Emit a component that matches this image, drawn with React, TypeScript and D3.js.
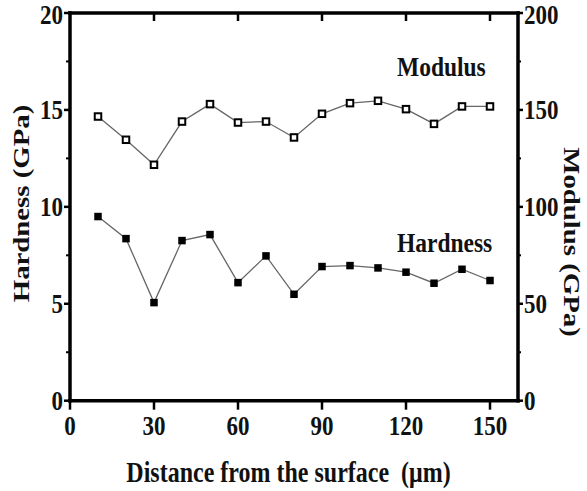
import React from "react";
import * as d3 from "d3";

const distances = [10, 20, 30, 40, 50, 60, 70, 80, 90, 100, 110, 120, 130, 140, 150];
const hardness = [9.5, 8.36, 5.06, 8.26, 8.57, 6.09, 7.47, 5.49, 6.92, 6.97, 6.85, 6.63, 6.06, 6.78, 6.2];
const modulus = [146.6, 134.6, 121.7, 144, 153, 143.5, 144, 135.8, 148, 153.5, 154.7, 150.4, 142.8, 151.8, 151.8];
const xTicks = [0, 30, 60, 90, 120, 150];
const hTicks = [0, 5, 10, 15, 20];
const hMinor = [2.5, 7.5, 12.5, 17.5];
const mTicks = [0, 50, 100, 150, 200];
const mMinor = [25, 75, 125, 175];

const W = 587;
const H = 491;
const FONT = "'Liberation Serif', 'DejaVu Serif', serif";
const SY = 1.2;

const left = 70, right = 518, top = 13, bottom = 400.7;

export default function App() {
  const x = d3.scaleLinear().domain([0, 160]).range([left, right]);
  const yH = d3.scaleLinear().domain([0, 20]).range([bottom, top]);
  const yM = d3.scaleLinear().domain([0, 200]).range([bottom, top]);

  const lineH = d3.line<number>().x((_, i) => x(distances[i])).y((d) => yH(d));
  const lineM = d3.line<number>().x((_, i) => x(distances[i])).y((d) => yM(d));

  const tickFs = 23;
  const capOff = tickFs * 0.66 * SY / 2;
  const axisW = 3.5;
  const ms = 7.5;

  const T = (props: { x: number; y: number; fs: number; anchor?: string; children: React.ReactNode; rot?: number }) => {
    const tr = props.rot
      ? `translate(${props.x},${props.y}) rotate(${props.rot}) scale(${SY},1)`
      : `translate(${props.x},${props.y}) scale(1,${SY})`;
    return (
      <text transform={tr} fontFamily={FONT} fontWeight="bold" fontSize={props.fs}
        textAnchor={props.anchor || "start"} fill="#111" style={{ whiteSpace: "pre" }}>
        {props.children}
      </text>
    );
  };

  return (
    <svg width={W} height={H} style={{ position: "absolute", left: 0, top: 0, display: "block", background: "#fff" }}>
      <rect x={0} y={0} width={W} height={H} fill="#fff" />
      {/* series lines */}
      <path d={lineM(modulus) || ""} fill="none" stroke="#666" strokeWidth={1.3} />
      <path d={lineH(hardness) || ""} fill="none" stroke="#666" strokeWidth={1.3} />
      {modulus.map((v, i) => (
        <rect key={"m" + i} x={x(distances[i]) - ms / 2 + 0.5} y={yM(v) - ms / 2 + 0.5} width={ms - 1} height={ms - 1}
          fill="#fff" stroke="#000" strokeWidth={2} />
      ))}
      {hardness.map((v, i) => (
        <rect key={"h" + i} x={x(distances[i]) - ms / 2} y={yH(v) - ms / 2} width={ms} height={ms} fill="#000" />
      ))}

      {/* axes frame */}
      <g stroke="#000" strokeWidth={axisW} strokeLinecap="square">
        <line x1={left} y1={bottom} x2={right} y2={bottom} />
        <line x1={left} y1={top} x2={right} y2={top} />
        <line x1={left} y1={bottom} x2={left} y2={top} />
        <line x1={right} y1={bottom} x2={right} y2={top} />
      </g>
      {/* ticks */}
      <g stroke="#000" strokeWidth={2.5}>
        {xTicks.map((t) => (
          <line key={"xb" + t} x1={x(t)} x2={x(t)} y1={bottom} y2={bottom + 9} />
        ))}
        {xTicks.filter((t) => t > 0).map((t) => (
          <line key={"xt" + t} x1={x(t)} x2={x(t)} y1={top} y2={top + 8} />
        ))}
        {hTicks.map((t) => (
          <line key={"yl" + t} x1={left - 6} x2={left} y1={yH(t)} y2={yH(t)} />
        ))}
        {hMinor.map((t) => (
          <line key={"ylm" + t} x1={left - 4} x2={left} y1={yH(t)} y2={yH(t)} strokeWidth={2} />
        ))}
        {mTicks.map((t) => (
          <line key={"yr" + t} x1={right} x2={right + 5} y1={yM(t)} y2={yM(t)} />
        ))}
        {mMinor.map((t) => (
          <line key={"yrm" + t} x1={right} x2={right + 3} y1={yM(t)} y2={yM(t)} strokeWidth={2} />
        ))}
      </g>

      {/* tick labels */}
      {hTicks.map((t) => (
        <T key={"lh" + t} x={63} y={yH(t) + capOff + (t === 20 ? 2 : 0)} fs={tickFs} anchor="end">{t}</T>
      ))}
      {mTicks.map((t) => (
        <T key={"lm" + t} x={524} y={yM(t) + capOff + (t === 200 ? 2 : 0)} fs={tickFs} anchor="start">{t}</T>
      ))}
      {xTicks.map((t) => (
        <T key={"lx" + t} x={x(t)} y={435} fs={tickFs} anchor="middle">{t}</T>
      ))}

      {/* titles */}
      <T x={288.5} y={481.5} fs={24} anchor="middle">{"Distance from the surface\u00a0\u00a0(μm)"}</T>
      <T x={29} y={203.5} fs={24} anchor="middle" rot={-90}>Hardness (GPa)</T>
      <T x={564} y={242} fs={24} anchor="middle" rot={90}>Modulus (GPa)</T>
      <T x={397} y={76} fs={23.5} anchor="start">Modulus</T>
      <T x={397} y={252} fs={23.5} anchor="start">Hardness</T>
    </svg>
  );
}
